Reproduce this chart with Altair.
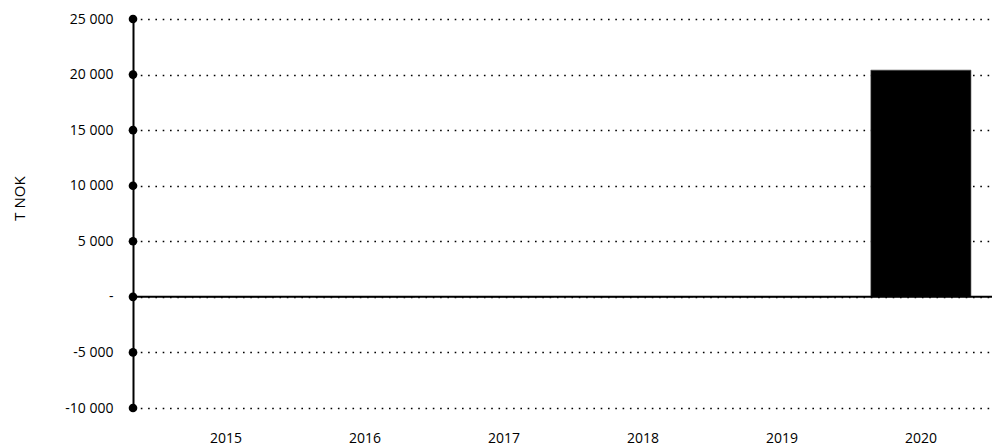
import altair as alt
import pandas as pd

years = ["2015", "2016", "2017", "2018", "2019", "2020"]
values = [0, 0, 0, 0, 0, 20400]
y_ticks = [-10000, -5000, 0, 5000, 10000, 15000, 20000, 25000]

df = pd.DataFrame({"year": years, "value": values})
ticks_df = pd.DataFrame({"tick": y_ticks})
zero_df = pd.DataFrame({"z": [0]})

FONT = "Open Sans"
yscale = alt.Scale(domain=[-10000, 25000], nice=False, zero=False)
xscale = alt.Scale(range=[0, 881], paddingInner=0.28, paddingOuter=0.31)

label_expr = ("datum.value == 0 ? '-' : replace(replace(format(datum.value, ','), "
              "',', ' '), '\u2212', '-')")

bars = alt.Chart(df).mark_bar(color="black", stroke="#444", strokeWidth=0.6).encode(
    x=alt.X("year:N", scale=xscale, sort=years,
            axis=alt.Axis(title=None, labelAngle=0, domain=False, ticks=False,
                          labelPadding=23, labelFontSize=14, labelFont=FONT,
                          labelColor="black", grid=False)),
    y=alt.Y("value:Q", scale=yscale,
            axis=alt.Axis(values=y_ticks, title="T NOK", grid=True,
                          gridDash=[1.6, 5.7], gridColor="black", gridWidth=1.6,
                          domain=True, domainColor="black", domainWidth=2,
                          ticks=False, labelPadding=20, labelExpr=label_expr,
                          labelFont=FONT, labelFontSize=14, labelColor="black",
                          titleFont=FONT, titleFontSize=15, titleFontWeight="normal",
                          titleColor="black", titleX=-114, titleY=179,
                          titleAngle=270, titleAlign="center",
                          titleBaseline="middle")),
)

zero = alt.Chart(zero_df).mark_rule(color="black", strokeWidth=2).encode(
    y=alt.Y("z:Q", scale=yscale)
)

dots = alt.Chart(ticks_df).mark_circle(color="black", size=75, opacity=1).encode(
    x=alt.value(0),
    y=alt.Y("tick:Q", scale=yscale),
)

chart = alt.layer(bars, zero, dots).properties(
    width=859, height=389,
    autosize=alt.AutoSizeParams(type="none"),
    padding={"left": 125, "top": 11, "right": 0, "bottom": 40},
).configure_view(stroke=None)

chart.save("out.html", embed_options={"renderer": "svg", "actions": False})
